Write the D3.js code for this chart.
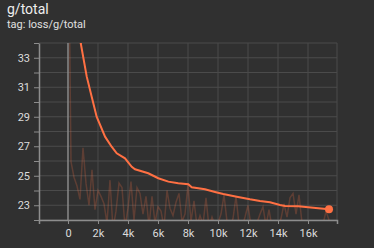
<!DOCTYPE html>
<html>
<head>
<meta charset="utf-8">
<script src="https://cdn.jsdelivr.net/npm/d3@7"></script>
<style>
  body { margin: 0; background: #303030; }
  svg { display: block; font-family: Roboto, "Noto Sans", sans-serif; }
</style>
</head>
<body>
<div id="chart"></div>
<script>
let svgWidth = 374;
let svgHeight = 248;

// raw loss, one point every 200 steps (values under 22 fall below the visible range)
let rawSteps = d3.range(0, 17401, 200);
let rawValues = [
  45.0, 25.95, 24.9, 24.3, 23.4, 26.9, 24.5, 23.0, 25.4, 22.7,
  24.0, 23.6, 23.1, 21.8, 24.7, 21.4, 22.6, 24.5, 24.2, 21.5,
  22.8, 24.6, 22.0, 24.2, 23.8, 22.4, 23.6, 21.6, 23.6, 21.8,
  22.9, 22.6, 21.5, 24.0, 22.8, 22.3, 23.2, 23.8, 21.9, 22.4,
  24.4, 21.9, 23.3, 21.6, 22.3, 21.7, 23.5, 21.5, 22.2, 21.6,
  21.8, 22.4, 23.7, 21.9, 21.5, 22.1, 23.6, 21.7, 21.5, 22.2,
  23.0, 21.6, 21.4, 21.8, 22.4, 22.9, 21.6, 22.7, 21.5, 21.8,
  21.5, 22.1, 23.1, 22.2, 23.5, 23.8, 22.4, 23.7, 21.8, 21.6,
  21.5, 21.9, 21.6, 21.5, 21.8, 21.7, 22.6, 22.0
];

// smoothed curve
let smoothSteps = [0, 500, 850, 1250, 1580, 1910, 2470, 2910, 3250, 3800, 4250, 4470,
  5350, 6020, 6690, 7350, 8020, 8250, 9130, 9800, 10350, 11250, 12130, 12800,
  13470, 14130, 14470, 15350, 16020, 16690, 17400];
let smoothValues = [45.0, 36.6, 33.98, 31.72, 30.36, 29.0, 27.65, 26.97, 26.52, 26.18, 25.61, 25.44,
  25.17, 24.83, 24.6, 24.49, 24.42, 24.22, 24.08, 23.9, 23.76, 23.58, 23.4, 23.29,
  23.2, 23.02, 22.95, 22.93, 22.86, 22.79, 22.73];

let xTicks = [0, 2000, 4000, 6000, 8000, 10000, 12000, 14000, 16000];
let yTicks = [23, 25, 27, 29, 31, 33];

let plot = { left: 39, right: 337, top: 43, bottom: 220 };

let svg = d3.select("#chart").append("svg")
  .attr("width", svgWidth)
  .attr("height", svgHeight);

svg.append("rect").attr("width", svgWidth).attr("height", svgHeight).attr("fill", "#303030");

svg.append("text").attr("x", 7).attr("y", 14)
  .attr("fill", "#eeeeee").attr("font-size", 14).text("g/total");
svg.append("text").attr("x", 7).attr("y", 28)
  .attr("fill", "#e0e0e0").attr("font-size", 11).text("tag: loss/g/total");

let x = d3.scaleLinear().domain([-1933, 17933]).range([plot.left, plot.right]);
let y = d3.scaleLinear().domain([22, 34]).range([plot.bottom, plot.top]);

// grid
let grid = svg.append("g");
grid.selectAll(".hg").data(d3.range(22, 35)).enter().append("line")
  .attr("x1", plot.left).attr("x2", plot.right)
  .attr("y1", d => y(d)).attr("y2", d => y(d))
  .attr("stroke", "#4b4b4b").attr("stroke-width", 1);
grid.selectAll(".vg").data(xTicks).enter().append("line")
  .attr("x1", d => x(d)).attr("x2", d => x(d))
  .attr("y1", plot.top).attr("y2", plot.bottom)
  .attr("stroke", d => d === 0 ? "#8a8a8a" : "#4b4b4b").attr("stroke-width", d => d === 0 ? 1.5 : 1);
grid.append("line")
  .attr("x1", plot.right).attr("x2", plot.right)
  .attr("y1", plot.top).attr("y2", plot.bottom)
  .attr("stroke", "#4b4b4b");

// axes
let bottomAxis = d3.axisBottom(x).tickValues(xTicks)
  .tickFormat(d => d === 0 ? "0" : (d / 1000) + "k").tickSize(4).tickSizeOuter(4).tickPadding(5);
let leftAxis = d3.axisLeft(y).tickValues(d3.range(22, 35))
  .tickFormat(d => yTicks.includes(d) ? d : "").tickSize(5).tickSizeOuter(0).tickPadding(4);

let gx = svg.append("g").attr("transform", `translate(0, ${plot.bottom})`).call(bottomAxis);
let gy = svg.append("g").attr("transform", `translate(${plot.left}, 0)`).call(leftAxis);

[gx, gy].forEach(g => {
  g.select(".domain").attr("stroke", "#8d8d8d").attr("stroke-width", 1.5);
  g.selectAll(".tick line").attr("stroke", "#8d8d8d");
  g.selectAll(".tick text").attr("fill", "#dcdcdc").attr("font-size", 11)
    .attr("font-family", "Roboto, sans-serif");
});

// lines
svg.append("clipPath").attr("id", "clip").append("rect")
  .attr("x", plot.left).attr("y", plot.top)
  .attr("width", plot.right - plot.left).attr("height", plot.bottom - plot.top);

let lines = svg.append("g").attr("clip-path", "url(#clip)");

let rawLine = d3.line().x((d, i) => x(rawSteps[i])).y(d => y(d));
lines.append("path").datum(rawValues)
  .attr("d", rawLine)
  .attr("fill", "none")
  .attr("stroke", "#ff7043").attr("stroke-opacity", 0.22).attr("stroke-width", 1.5);

let smoothLine = d3.line().x((d, i) => x(smoothSteps[i])).y(d => y(d));
lines.append("path").datum(smoothValues)
  .attr("d", smoothLine)
  .attr("fill", "none")
  .attr("stroke", "#ff7043").attr("stroke-width", 2);

let last = smoothValues.length - 1;
svg.append("circle")
  .attr("cx", x(smoothSteps[last])).attr("cy", y(smoothValues[last]))
  .attr("r", 4).attr("fill", "#ff7043");
</script>
</body>
</html>
